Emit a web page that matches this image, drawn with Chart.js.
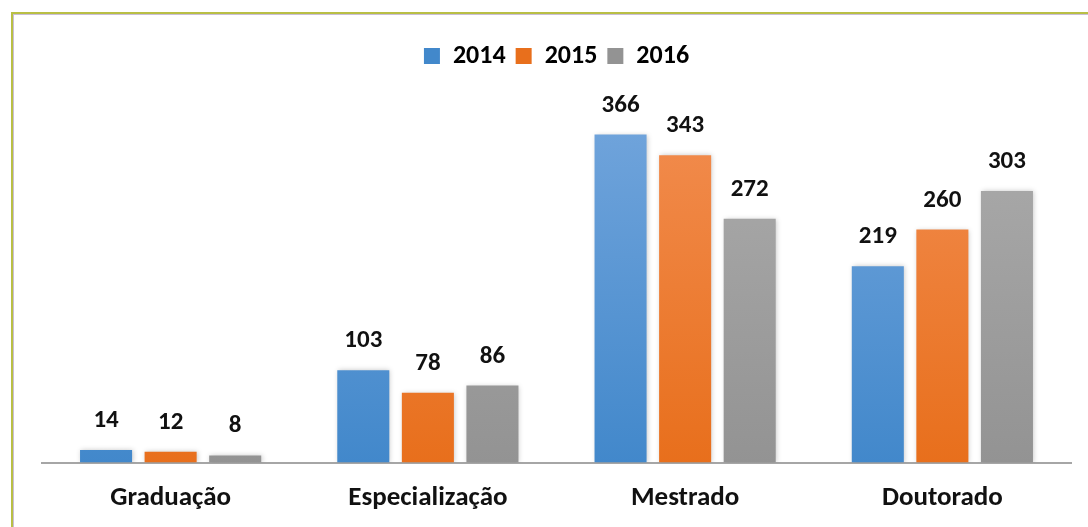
<!DOCTYPE html>
<html>
<head>
<meta charset="utf-8">
<script src="https://cdn.jsdelivr.net/npm/chart.js@4.4.0/dist/chart.umd.min.js"></script>
<style>
  html, body { margin: 0; padding: 0; background: #fff; overflow: hidden; }
  #wrap { width: 1088px; height: 527px; position: relative; overflow: hidden; }
  #box { width: 1088px; height: 545px; position: absolute; left: 0; top: 0; }
</style>
</head>
<body>
<div id="wrap"><div id="box"><canvas id="grafico"></canvas></div></div>
<script>
// Dados do gráfico
const categorias = ["Graduação", "Especialização", "Mestrado", "Doutorado"];
const anos = ["2014", "2015", "2016"];
const valores2014 = [14, 103, 366, 219];
const valores2015 = [12, 78, 343, 260];
const valores2016 = [8, 86, 272, 303];

const fonte = "Carlito, Lato, 'Open Sans', sans-serif";

// cores: [topo, base]
const cores = [
  ["#72a5dc", "#4288cb"],
  ["#f28d50", "#e86f1c"],
  ["#acacac", "#939393"]
];

function gradiente(i) {
  return function (context) {
    const chart = context.chart;
    const area = chart.chartArea;
    if (!area) return cores[i][1];
    const g = chart.ctx.createLinearGradient(0, area.bottom, 0, area.top + 30);
    g.addColorStop(0, cores[i][1]);
    g.addColorStop(1, cores[i][0]);
    return g;
  };
}

// moldura e fundo
const moldura = {
  id: "moldura",
  beforeDraw(chart) {
    const ctx = chart.ctx;
    ctx.save();
    ctx.fillStyle = "#ffffff";
    ctx.fillRect(0, 0, chart.width, chart.height);
    ctx.fillStyle = "#b9bf45";
    ctx.fillRect(11, 12, chart.width, 2);
    ctx.fillRect(11, 12, 2, chart.height);
    ctx.fillStyle = "#c9bfd6";
    ctx.fillRect(13, 14, chart.width, 1);
    ctx.fillRect(13, 14, 1, chart.height);
    ctx.restore();
  }
};

// sombra suave nas barras
const sombra = {
  id: "sombra",
  beforeDatasetsDraw(chart) {
    const ctx = chart.ctx;
    ctx.save();
    ctx.shadowColor = "rgba(0,0,0,0.22)";
    ctx.shadowBlur = 5;
    ctx.shadowOffsetX = 1;
  },
  afterDatasetsDraw(chart) {
    chart.ctx.restore();
  }
};

// rótulos de valor acima das barras
const rotulos = {
  id: "rotulos",
  afterDatasetsDraw(chart) {
    const ctx = chart.ctx;
    ctx.save();
    ctx.font = "bold 25px " + fonte;
    ctx.fillStyle = "#111111";
    ctx.textAlign = "center";
    ctx.textBaseline = "alphabetic";
    chart.data.datasets.forEach((ds, i) => {
      chart.getDatasetMeta(i).data.forEach((bar, j) => {
        ctx.fillText(ds.data[j], bar.x, bar.y - 23);
      });
    });
    ctx.restore();
  }
};

const dados = {
  labels: categorias,
  datasets: [
    { label: anos[0], data: valores2014, backgroundColor: gradiente(0) },
    { label: anos[1], data: valores2015, backgroundColor: gradiente(1) },
    { label: anos[2], data: valores2016, backgroundColor: gradiente(2) }
  ]
};

const config = {
  type: "bar",
  data: dados,
  options: {
    responsive: true,
    maintainAspectRatio: false,
    animation: false,
    layout: {
      padding: { left: 42, right: 17, top: 33, bottom: 12 }
    },
    datasets: {
      bar: {
        categoryPercentage: 0.753,
        barPercentage: 0.806,
        borderWidth: 0
      }
    },
    plugins: {
      legend: {
        position: "top",
        labels: {
          boxWidth: 16,
          boxHeight: 16,
          padding: 10,
          color: "#111111",
          font: { family: fonte, size: 26, weight: "bold" },
          generateLabels(chart) {
            return anos.map((a, i) => ({
              text: a,
              fillStyle: cores[i][1],
              strokeStyle: cores[i][1],
              lineWidth: 0,
              datasetIndex: i
            }));
          }
        }
      },
      tooltip: { enabled: false }
    },
    scales: {
      x: {
        grid: { display: false, drawTicks: false },
        border: { display: true, color: "#a6a6a6", width: 2 },
        ticks: {
          padding: 19,
          color: "#111111",
          font: { family: fonte, size: 27, weight: "bold" }
        }
      },
      y: {
        display: false,
        min: 0,
        max: 428
      }
    }
  },
  plugins: [moldura, sombra, rotulos]
};

const grafico = new Chart(document.getElementById("grafico"), config);
</script>
</body>
</html>
